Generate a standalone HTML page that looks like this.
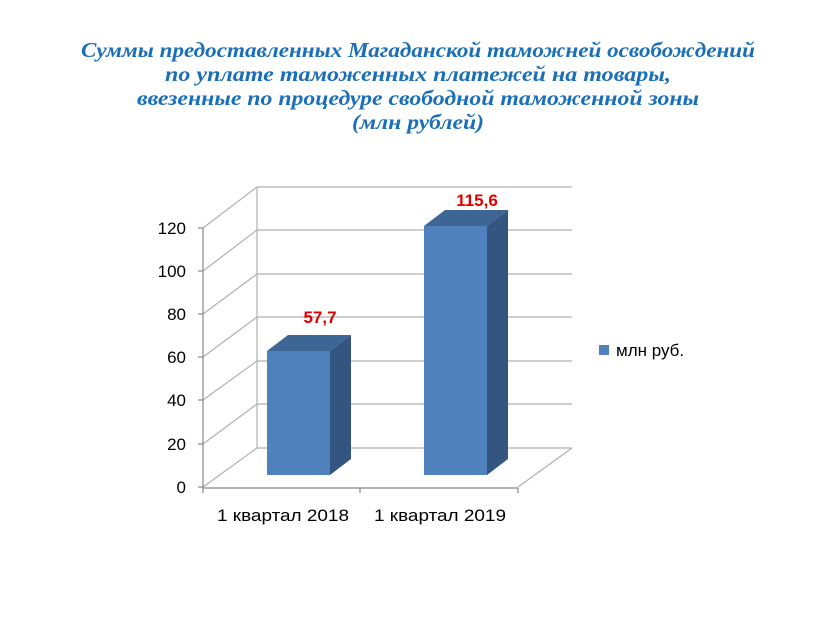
<!DOCTYPE html>
<html><head><meta charset="utf-8"><style>
html,body{margin:0;padding:0;background:#fff;}
svg{display:block;}
</style></head><body>
<svg width="838" height="629" xmlns="http://www.w3.org/2000/svg">
<rect width="838" height="629" fill="#fff"/>
<g font-family="'Liberation Serif',serif" font-style="italic" font-weight="bold" font-size="21" fill="#1a6fb8" text-anchor="middle">
<text x="418" y="57" textLength="674" lengthAdjust="spacingAndGlyphs">Суммы предоставленных Магаданской таможней освобождений</text>
<text x="418" y="81" textLength="506" lengthAdjust="spacingAndGlyphs">по уплате таможенных платежей на товары,</text>
<text x="418" y="105" textLength="562" lengthAdjust="spacingAndGlyphs">ввезенные по процедуре свободной таможенной зоны</text>
<text x="418" y="129" textLength="132" lengthAdjust="spacingAndGlyphs">(млн рублей)</text>
</g>
<g stroke="#b0b0b0" stroke-width="1.2" fill="none">
<line x1="257" y1="187" x2="257" y2="448"/>
<line x1="257" y1="187" x2="572" y2="187"/>
<line x1="257" y1="230" x2="572" y2="230"/>
<line x1="257" y1="274" x2="572" y2="274"/>
<line x1="257" y1="317" x2="572" y2="317"/>
<line x1="257" y1="361" x2="572" y2="361"/>
<line x1="257" y1="404" x2="572" y2="404"/>
<line x1="257" y1="448" x2="572" y2="448"/>
<line x1="203" y1="228" x2="257" y2="187"/>
<line x1="203" y1="271" x2="257" y2="230"/>
<line x1="203" y1="314" x2="257" y2="274"/>
<line x1="203" y1="357" x2="257" y2="317"/>
<line x1="203" y1="400" x2="257" y2="361"/>
<line x1="203" y1="444" x2="257" y2="404"/>
<line x1="203" y1="487" x2="257" y2="448"/>
<line x1="518" y1="487" x2="572" y2="448"/>
</g>
<g stroke="#888" stroke-width="1.2">
<line x1="203" y1="228" x2="203" y2="488"/>
<line x1="203" y1="488" x2="518" y2="488"/>
<line x1="198" y1="228" x2="203" y2="228"/><line x1="198" y1="271" x2="203" y2="271"/>
<line x1="198" y1="314" x2="203" y2="314"/><line x1="198" y1="357" x2="203" y2="357"/>
<line x1="198" y1="400" x2="203" y2="400"/><line x1="198" y1="444" x2="203" y2="444"/>
<line x1="198" y1="487" x2="203" y2="487"/>
<line x1="203" y1="488" x2="203" y2="493"/><line x1="360" y1="488" x2="360" y2="493"/><line x1="518" y1="488" x2="518" y2="493"/>
</g>
<polygon points="267,351 288,335 351,335 330,351" fill="#3e6694"/>
<polygon points="330,351 351,335 351,459 330,475" fill="#335580"/>
<rect x="267" y="351" width="63" height="124" fill="#4f81bd"/>
<polygon points="424,226 445,210 508,210 487,226" fill="#3e6694"/>
<polygon points="487,226 508,210 508,459 487,475" fill="#335580"/>
<rect x="424" y="226" width="63" height="249" fill="#4f81bd"/>
<g font-family="'Liberation Sans',sans-serif" font-size="17" fill="#000">
<g text-anchor="end">
<text x="186" y="234">120</text><text x="186" y="277">100</text><text x="186" y="320">80</text>
<text x="186" y="363">60</text><text x="186" y="406">40</text><text x="186" y="450">20</text><text x="186" y="493">0</text>
</g>
<g text-anchor="middle">
<text x="283" y="521" textLength="132" lengthAdjust="spacingAndGlyphs">1 квартал 2018</text><text x="440" y="521" textLength="132" lengthAdjust="spacingAndGlyphs">1 квартал 2019</text>
</g>
<text x="616" y="356">млн руб.</text>
</g>
<rect x="599" y="345" width="10" height="10" fill="#4f81bd"/>
<g font-family="'Liberation Sans',sans-serif" font-size="17" font-weight="bold" fill="#e00000" text-anchor="middle">
<text x="320" y="323">57,7</text><text x="477" y="206">115,6</text>
</g>
</svg>
</body></html>
